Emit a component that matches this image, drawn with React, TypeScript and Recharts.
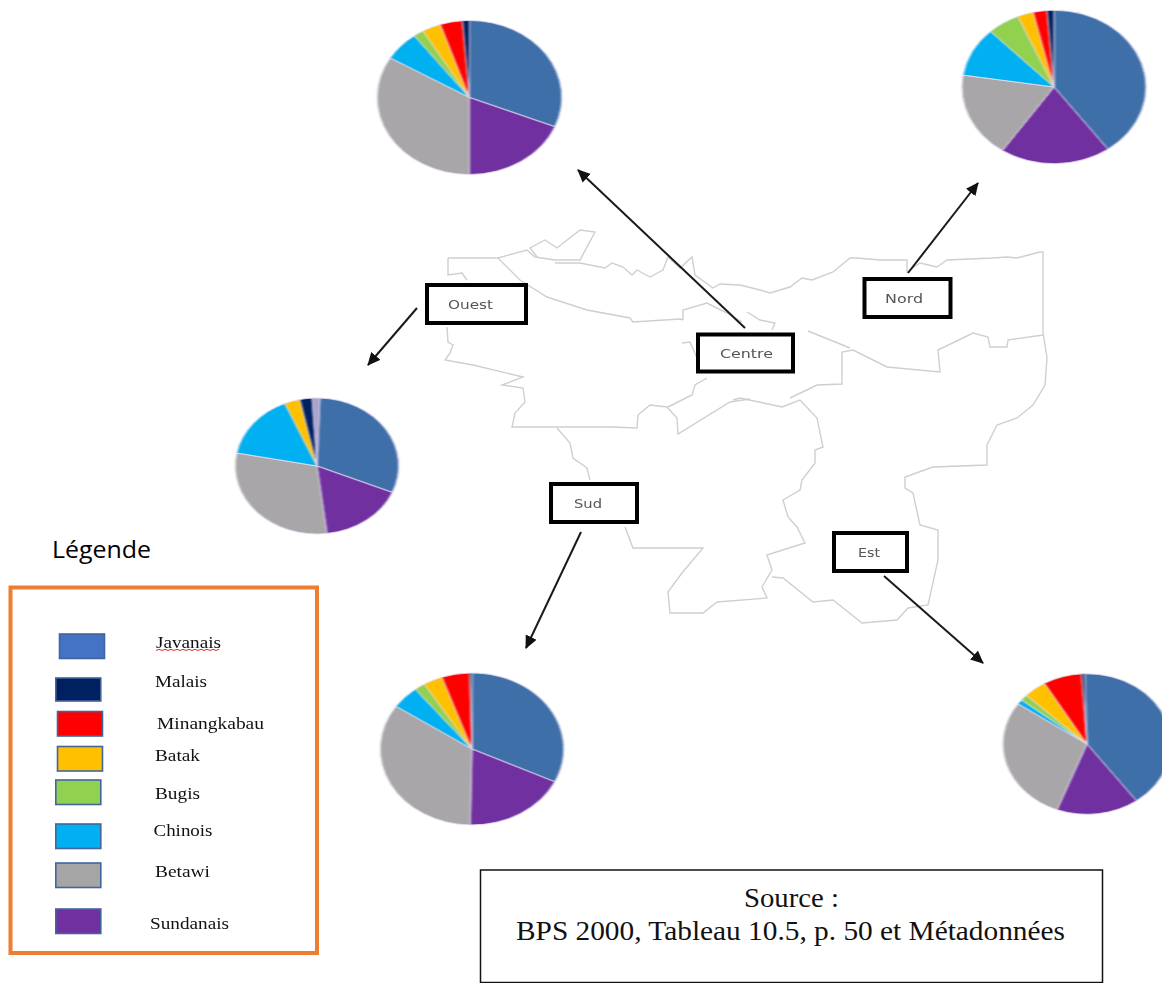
import React from "react";
import { PieChart, Pie, Cell } from "recharts";

// clockwise from 12 o'clock, same order in every pie
const categories = ["Javanais", "Sundanais", "Betawi", "Chinois", "Bugis", "Batak", "Minangkabau", "Malais", "Autre"];
const sliceColors = ["#3f6fa9", "#7030a0", "#a8a6a8", "#00b0f0", "#92d050", "#ffc000", "#ff0000", "#002060", "#a9a0cc"];

const centreValues = [31.2, 18.8, 33.6, 6.2, 1.8, 3.3, 3.9, 1.2, 0];
const nordValues = [40, 19.4, 18, 10.4, 5.7, 2.8, 2.4, 1.2, 0];
const ouestValues = [30.8, 16.7, 30, 15.5, 0, 3.1, 0, 2.4, 1.5];
const sudValues = [32.1, 18.2, 34.2, 4.9, 1.9, 3.4, 4.9, 0.4, 0];
const estValues = [40.4, 15.8, 28.9, 1.1, 1.4, 4.4, 7.4, 0.6, 0];

const pies = [
  { id: "Centre", values: centreValues, cx: 469, cy: 97, rx: 92.3, ry: 77, offset: 0 },
  { id: "Nord", values: nordValues, cx: 1053.7, cy: 87.3, rx: 92, ry: 76.7, offset: 0 },
  { id: "Ouest", values: ouestValues, cx: 316.7, cy: 466.3, rx: 81.7, ry: 68, offset: 2 },
  { id: "Sud", values: sudValues, cx: 471.7, cy: 749.3, rx: 91.7, ry: 76, offset: 0 },
  { id: "Est", values: estValues, cx: 1086.7, cy: 743.7, rx: 84, ry: 70.3, offset: -1.5 },
];

const legendNames = ["Javanais", "Malais", "Minangkabau", "Batak", "Bugis", "Chinois", "Betawi", "Sundanais"];
const legendColors = ["#4472c4", "#002060", "#ff0000", "#ffc000", "#92d050", "#00b0f0", "#a5a5a5", "#7030a0"];
const swatchBoxes = [
  [59.5, 634, 45, 24.5], [55.8, 678, 45, 23], [57.5, 711.5, 45, 24.5], [57.5, 746.5, 45, 24.5],
  [55.8, 780, 45, 24.5], [55.8, 824, 45, 24.5], [55.8, 863, 45, 24.5], [55.8, 909, 45, 24.5],
];
const labelSpots = [
  [156, 648, 65], [155, 686.5, 52], [157, 729, 107], [155, 760.5, 45],
  [155, 799, 45], [153.5, 836, 59], [155, 877, 55], [150, 928.5, 79],
];

const regionBoxes = [
  { name: "Ouest", x: 427, y: 285, w: 99, h: 38, tx: 448, tw: 45 },
  { name: "Centre", x: 698, y: 334.5, w: 95, h: 37, tx: 720, tw: 53 },
  { name: "Nord", x: 864.5, y: 279, w: 86, h: 38, tx: 885, tw: 38 },
  { name: "Sud", x: 551, y: 484, w: 86, h: 38, tx: 574, tw: 28 },
  { name: "Est", x: 834, y: 533, w: 73, h: 38, tx: 858, tw: 22 },
];

const arrows = [
  [745, 328, 578, 170],
  [908, 273, 978, 183],
  [417, 308, 368, 365],
  [581, 532, 526, 648],
  [884, 576, 983, 663],
];

// map outline
const mapLines = [
  "448,258 498,258 527,250 535,257 555,260 580,260 595,232 580,230 557,248 545,240 530,248 538,258",
  "448,258 448,275 462,273 467,280",
  "447,327 448,342 453,345 450,353 445,360 473,365 523,377 502,385 523,388 525,402 515,413 512,427 553,427 612,427 637,428 638,415 650,405 667,407 677,418 678,434 730,402 750,399",
  "555,263 580,263 605,268 612,263 623,267 632,275 637,270 650,277 663,270 668,257 680,268 692,257 695,275 713,288 720,284 740,285 760,290 770,293 790,287 802,278 812,280 833,272 850,258 857,258 880,260 907,260 907,272 920,263 937,267 947,260 993,258 1007,257 1017,258 1040,252 1043,252 1043,332 1047,358 1045,385 1033,405 1017,418 997,425 987,445 987,465 933,467 905,477 905,488 913,493 920,525 938,530 938,560 928,605 908,608 897,620 862,623 833,600 813,602 783,578 772,577",
  "733,400 740,398 782,407 800,400 817,418 823,447 815,450 815,463 802,480 800,490 783,500 788,517 797,527 805,543 792,547 767,555 772,570 762,587 767,598 717,602 703,613 670,613 668,592 682,573 703,548 633,548 625,527",
  "557,428 570,443 573,458 587,468 590,480",
  "790,398 817,385 842,384 842,352 853,350 887,367 940,372 938,350 973,333 988,337 990,347 1007,347 1008,340 1043,335",
  "808,331 850,348",
  "747,312 760,320 775,323 772,330",
  "682,343 690,342 697,358",
  "683,320 683,310 707,303 727,313 742,322",
  "498,258 520,280 547,297 587,310 630,318 633,322 680,319 683,320",
  "707,378 695,385 692,395 668,407",
];

function RegionPie({ values, cx, cy, rx, ry, offset }: { values: number[]; cx: number; cy: number; rx: number; ry: number; offset: number }) {
  const data = categories
    .map((name, i) => ({ name, value: values[i], color: sliceColors[i] }))
    .filter((d) => d.value > 0);
  const size = Math.ceil(rx * 2) + 4;
  return (
    <div
      style={{
        position: "absolute",
        left: cx - size / 2,
        top: cy - size / 2,
        width: size,
        height: size,
        transform: `scaleY(${ry / rx})`,
        filter: "blur(0.8px)",
      }}
    >
      <PieChart width={size} height={size} margin={{ top: 0, right: 0, bottom: 0, left: 0 }}>
        <Pie
          data={data}
          dataKey="value"
          nameKey="name"
          cx={size / 2}
          cy={size / 2}
          outerRadius={rx}
          startAngle={90 - offset}
          endAngle={90 - offset - 360}
          stroke="#e6ddf0"
          strokeWidth={1}
          isAnimationActive={false}
        >
          {data.map((d) => (
            <Cell key={d.name} fill={d.color} />
          ))}
        </Pie>
      </PieChart>
    </div>
  );
}

export default function App() {
  const serif = "'Liberation Serif', serif";
  return (
    <div style={{ position: "absolute", left: 0, top: 0, width: 1162, height: 983, overflow: "hidden", background: "#fff" }}>
      <svg width={1162} height={983} style={{ position: "absolute", left: 0, top: 0 }}>
        <defs>
          <marker id="head" markerWidth="7" markerHeight="7" refX="6" refY="3" orient="auto">
            <path d="M0,0 L6.5,3 L0,6 Z" fill="#111" />
          </marker>
        </defs>
        <g fill="none" stroke="#cfcfcf" strokeWidth={1.4} style={{ filter: "blur(0.5px)" }}>
          {mapLines.map((pts, i) => (
            <polyline key={i} points={pts} />
          ))}
        </g>
        {arrows.map(([x1, y1, x2, y2], i) => (
          <line key={i} x1={x1} y1={y1} x2={x2} y2={y2} stroke="#1a1a1a" strokeWidth={2} markerEnd="url(#head)" />
        ))}
        {regionBoxes.map((b) => (
          <g key={b.name}>
            <rect x={b.x} y={b.y} width={b.w} height={b.h} fill="#fff" stroke="#000" strokeWidth={4} />
            <text
              x={b.tx}
              y={b.y + b.h / 2 + 4.5}
              textLength={b.tw}
              lengthAdjust="spacingAndGlyphs"
              fontFamily="'DejaVu Sans', sans-serif"
              fontSize={13}
              fill="#555"
              style={{ filter: "blur(0.4px)" }}
            >
              {b.name}
            </text>
          </g>
        ))}

        <text x={52} y={558} textLength={99} lengthAdjust="spacingAndGlyphs" fontFamily="'Open Sans', sans-serif" fontSize={24} fill="#000">
          Légende
        </text>
        <rect x={10.5} y={587.5} width={306.5} height={365.5} fill="#fff" stroke="#ed7d31" strokeWidth={4} />
        {legendNames.map((name, i) => {
          const [x, y, w, h] = swatchBoxes[i];
          const [tx, ty, tw] = labelSpots[i];
          return (
            <g key={name}>
              <rect x={x} y={y} width={w} height={h} fill={legendColors[i]} stroke="#41669c" strokeWidth={1.6} />
              <text
                x={tx}
                y={ty}
                textLength={tw}
                lengthAdjust="spacingAndGlyphs"
                fontFamily={serif}
                fontSize={17}
                fill="#111"
                style={{ filter: "blur(0.4px)" }}
              >
                {name}
              </text>
            </g>
          );
        })}
        <path
          d="M156 650.5 l3 -1.2 l3 1.2 l3 -1.2 l3 1.2 l3 -1.2 l3 1.2 l3 -1.2 l3 1.2 l3 -1.2 l3 1.2 l3 -1.2 l3 1.2 l3 -1.2 l3 1.2 l3 -1.2 l3 1.2 l3 -1.2 l3 1.2 l3 -1.2 l3 1.2 l3 -1.2"
          fill="none"
          stroke="#d8302c"
          strokeWidth={1}
        />

        <rect x={480.5} y={870} width={622} height={112.5} fill="#fff" stroke="#111" strokeWidth={1.5} />
        <text x={744} y={907} textLength={95} lengthAdjust="spacingAndGlyphs" fontFamily={serif} fontSize={27} fill="#111">
          Source :
        </text>
        <text x={516} y={940} textLength={549} lengthAdjust="spacingAndGlyphs" fontFamily={serif} fontSize={27} fill="#111">
          BPS 2000, Tableau 10.5, p. 50 et Métadonnées
        </text>
      </svg>
      {pies.map((p) => (
        <RegionPie key={p.id} values={p.values} cx={p.cx} cy={p.cy} rx={p.rx} ry={p.ry} offset={p.offset} />
      ))}
    </div>
  );
}
